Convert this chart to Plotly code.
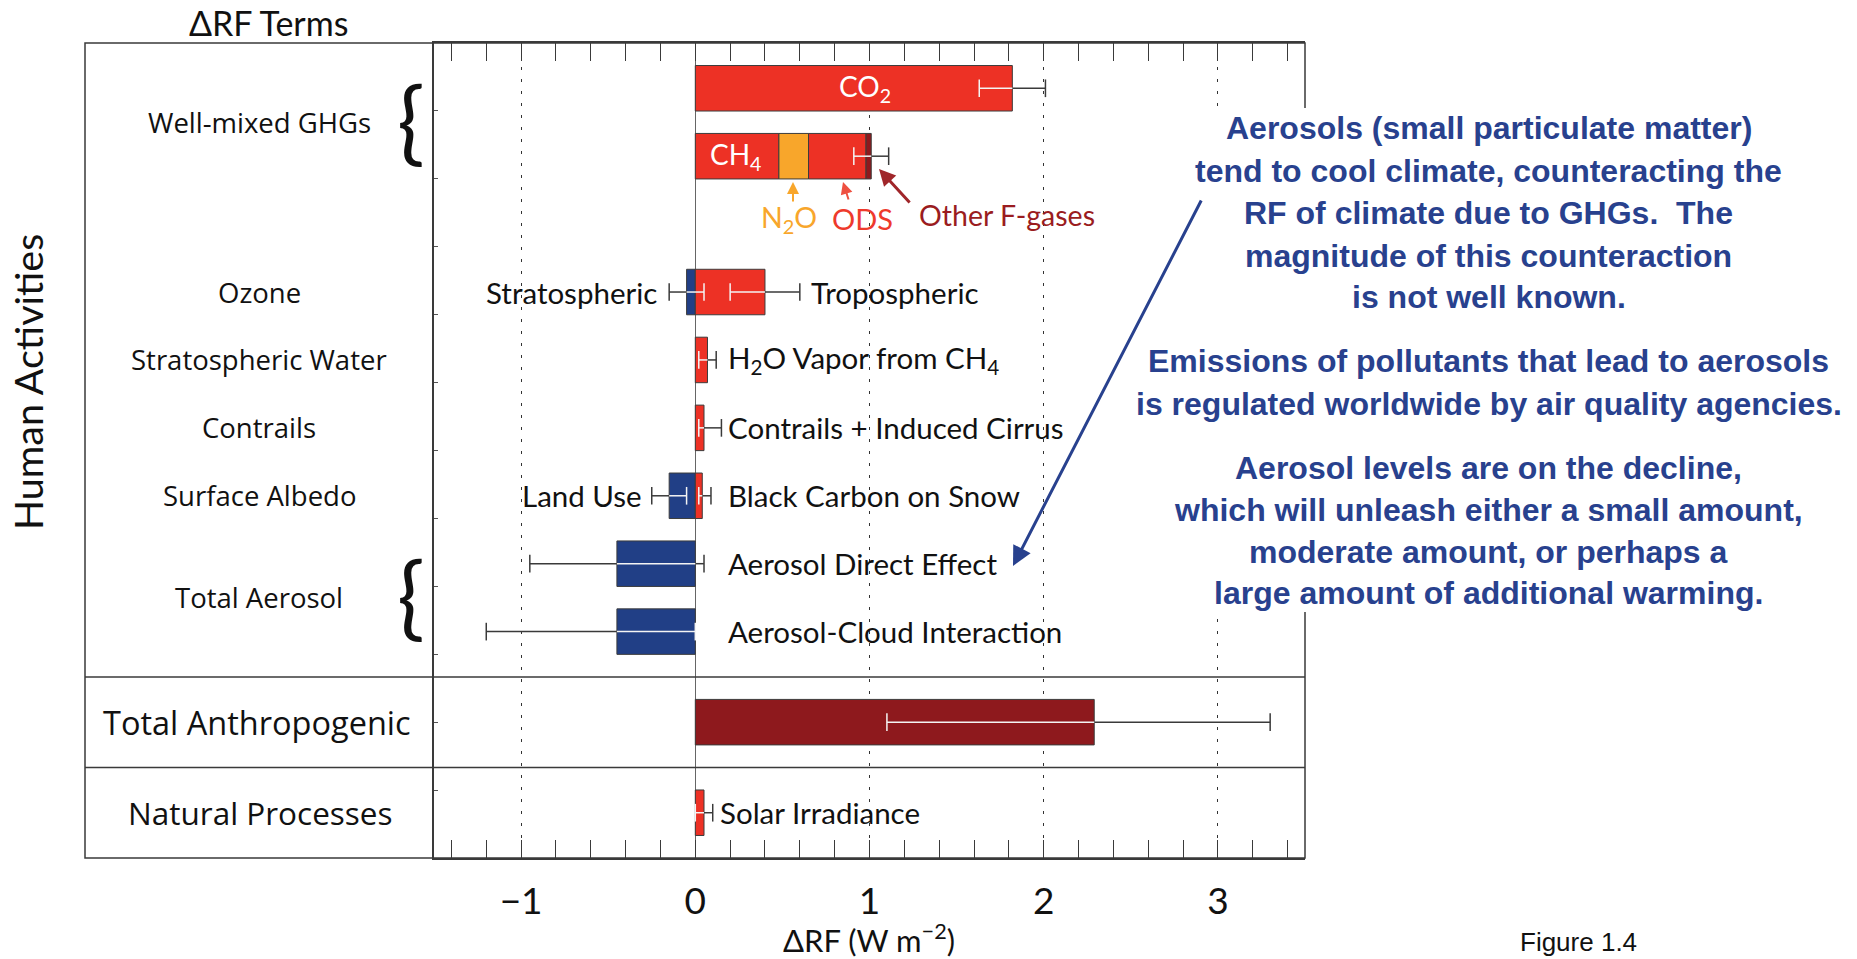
import plotly.graph_objects as go

# ---------------------------------------------------------------
# Radiative forcing terms (W m-2), 1750-2011
# ---------------------------------------------------------------
bar_terms = ["CO2", "CH4", "N2O", "ODS", "Other F-gases",
             "Stratospheric ozone", "Tropospheric ozone",
             "Stratospheric water", "Contrails",
             "Land use", "Black carbon on snow",
             "Aerosol direct", "Aerosol-cloud",
             "Total anthropogenic", "Solar irradiance"]
bar_rf = [1.82, 0.48, 0.17, 0.33, 0.03,
          -0.05, 0.40,
          0.07, 0.05,
          -0.15, 0.04,
          -0.45, -0.45,
          2.29, 0.05]
bar_row = ["co2", "wmghg", "wmghg", "wmghg", "wmghg",
           "ozone", "ozone",
           "h2o", "contrails",
           "albedo", "albedo",
           "ade", "aci",
           "total", "solar"]

# Uncertainty ranges (5-95 %)
err_row = ["co2", "wmghg", "ozone", "ozone", "h2o", "contrails",
           "albedo", "albedo", "ade", "aci", "total", "solar"]
err_lo = [1.63, 0.91, -0.15, 0.20, 0.02, 0.02, -0.25, 0.02, -0.95, -1.20, 1.10, 0.00]
err_hi = [2.01, 1.11, 0.05, 0.60, 0.12, 0.15, -0.05, 0.09, 0.05, 0.00, 3.30, 0.10]

x_ticks = [-1, 0, 1, 2, 3]
x_tick_text = ["\u22121", "0", "1", "2", "3"]

# ---------------------------------------------------------------
# Layout helpers
# ---------------------------------------------------------------
W, H = 1857, 959
ML, MR, MT, MB = 85, 552, 43, 101
PW, PH = W - ML - MR, H - MT - MB
DIV = 434  # divider between label column and plot


def px(x):
    return (x - ML) / PW


def py(y):
    return 1 - (y - MT) / PH


# vertical slot of each row on the y axis
row_slot = {"co2": 0, "wmghg": 1, "ozone": 3, "h2o": 4, "contrails": 5,
            "albedo": 6, "ade": 7, "aci": 8, "total": 9 + 1 / 3, "solar": 10 + 2 / 3}

RED = "#ED3125"
ORANGE = "#F8A62B"
DARKRED = "#8E191D"
BLUE = "#213F86"
NAVY_TXT = "#28418E"
term_color = {"CO2": RED, "CH4": RED, "N2O": ORANGE, "ODS": RED,
              "Other F-gases": DARKRED, "Stratospheric ozone": BLUE,
              "Tropospheric ozone": RED, "Stratospheric water": RED,
              "Contrails": RED, "Land use": BLUE, "Black carbon on snow": RED,
              "Aerosol direct": BLUE, "Aerosol-cloud": BLUE,
              "Total anthropogenic": DARKRED, "Solar irradiance": RED}

fig = go.Figure()

# stacked bars: terms sharing a row are stacked outward from zero by sign
pos_end, neg_end = {}, {}
for term, val, row in zip(bar_terms, bar_rf, bar_row):
    if val >= 0:
        base = pos_end.get(row, 0.0)
        pos_end[row] = base + val
    else:
        base = neg_end.get(row, 0.0)
        neg_end[row] = base + val
    fig.add_trace(go.Bar(
        x=[val], y=[row_slot[row]], base=[base], orientation="h",
        width=0.67, marker=dict(color=term_color[term],
                                line=dict(color="#3c3c3c", width=1)),
        name=term, showlegend=False, hoverinfo="skip"))

# error bars: light where they cross a bar, dark elsewhere
CAP = 0.13
dark_x, dark_y, light_x, light_y = [], [], [], []
for row, lo, hi in zip(err_row, err_lo, err_hi):
    y = row_slot[row]
    rmin, rmax = neg_end.get(row, 0.0), pos_end.get(row, 0.0)
    a, b = max(lo, rmin), min(hi, rmax)
    if a < b:
        light_x += [a, b, None]
        light_y += [y, y, None]
    if lo < rmin:
        dark_x += [lo, min(hi, rmin), None]
        dark_y += [y, y, None]
    if hi > rmax:
        dark_x += [max(lo, rmax), hi, None]
        dark_y += [y, y, None]
    for v in (lo, hi):
        tx, ty = (light_x, light_y) if rmin <= v <= rmax else (dark_x, dark_y)
        tx += [v, v, None]
        ty += [y - CAP, y + CAP, None]

fig.add_trace(go.Scatter(x=dark_x, y=dark_y, mode="lines",
                         line=dict(color="#3a3a3a", width=1.5),
                         showlegend=False, hoverinfo="skip"))
fig.add_trace(go.Scatter(x=light_x, y=light_y, mode="lines",
                         line=dict(color="#f4f4f4", width=1.5),
                         showlegend=False, hoverinfo="skip"))

# ---------------------------------------------------------------
# Frame and section separators
# ---------------------------------------------------------------
frame = dict(color="#3a3a3a", width=1.5)
shapes = [
    dict(type="rect", xref="paper", yref="paper", x0=0, x1=1, y0=0, y1=1, line=frame),
    dict(type="line", xref="paper", yref="y", x0=0, x1=1, y0=8 + 2 / 3, y1=8 + 2 / 3, line=frame),
    dict(type="line", xref="paper", yref="y", x0=0, x1=1, y0=10, y1=10, line=frame),
    # opaque backing of the commentary text box
    dict(type="rect", xref="paper", yref="paper", layer="above",
         x0=px(1131), x1=px(1848), y0=py(612), y1=py(108),
         fillcolor="white", line=dict(width=0)),
]

annotations = []


def note(text, x, y, size, family="Lato", color="#111", xanchor="center",
         xref="paper", yref="paper", **kw):
    annotations.append(dict(text=text, x=x, y=y, xref=xref, yref=yref,
                            xanchor=xanchor, yanchor="middle", showarrow=False,
                            font=dict(family=family, size=size, color=color), **kw))


# Row labels in the left column
LBL = "Open Sans"
for txt, row in [("Well-mixed GHGs", 0.5), ("Ozone", 3), ("Stratospheric Water", 4),
                 ("Contrails", 5), ("Surface Albedo", 6), ("Total Aerosol", 7.5)]:
    note(txt, px(259), row, 27.5, family=LBL, yref="y")
note("Total Anthropogenic", px(257), row_slot["total"], 32.5, family=LBL, yref="y")
note("Natural Processes", px(260), row_slot["solar"], 31.5, family=LBL, yref="y")

# grouping braces
for row in (0.5, 7.5):
    note("{", px(411), row, 92, family="Lato", yref="y", color="#111", yshift=4)

note("Human Activities", px(27), py(382), 39.5, textangle=-90)
note("\u0394RF Terms", px(268), py(23), 34)
note("\u0394RF (W m<sup>\u22122</sup>)", px(869), py(938), 31)
note("Figure 1.4", px(1578), py(942), 26, family="Liberation Sans")

# Term labels inside the plot
IN = 29.5
note("CO<sub>2</sub>", px(865), py(88), 28, color="white")
note("CH<sub>4</sub>", px(735), py(156), 28, color="white")
note("Stratospheric", px(659), row_slot["ozone"], IN, xanchor="right", yref="y")
note("Tropospheric", px(809), row_slot["ozone"], IN, xanchor="left", yref="y")
note("H<sub>2</sub>O Vapor from CH<sub>4</sub>", px(726), row_slot["h2o"], IN, xanchor="left", yref="y")
note("Contrails + Induced Cirrus", px(726), row_slot["contrails"], IN, xanchor="left", yref="y")
note("Land Use", px(644), row_slot["albedo"], IN, xanchor="right", yref="y")
note("Black Carbon on Snow", px(726), row_slot["albedo"], IN, xanchor="left", yref="y")
note("Aerosol Direct Effect", px(726), row_slot["ade"], IN, xanchor="left", yref="y")
note("Aerosol-Cloud Interaction", px(726), row_slot["aci"], IN, xanchor="left", yref="y")
note("Solar Irradiance", px(718), row_slot["solar"], IN, xanchor="left", yref="y")

# halocarbon / N2O call-outs
note("N<sub>2</sub>O", px(789), py(219), 28.5, color=ORANGE)
note("ODS", px(862), py(219), 29, color="#EE3A2C")
note("Other F-gases", px(917), py(215), 28.5, color="#9A1C20", xanchor="left")


def arrow(tip, tail, color, width, head=2, size=1.0):
    annotations.append(dict(text="", x=px(tip[0]), y=py(tip[1]), xref="paper", yref="paper",
                            ax=tail[0] - tip[0], ay=tail[1] - tip[1], axref="pixel", ayref="pixel",
                            showarrow=True, arrowhead=head, arrowsize=size,
                            arrowwidth=width, arrowcolor=color, standoff=0, startstandoff=0))


arrow((793, 182), (793, 203), ORANGE, 2, size=1.2)
arrow((843, 182), (849, 201), "#EE5040", 2, size=1.2)
arrow((879, 169), (911, 204), "#A0262A", 3, size=1.1)
arrow((1013, 566), (1202, 199), NAVY_TXT, 3, size=1.3)

# Commentary text block
comment_lines = [
    ("Aerosols (small particulate matter)", 128),
    ("tend to cool climate, counteracting the", 170.5),
    ("RF of climate due to GHGs.  The", 213),
    ("magnitude of this counteraction", 255.5),
    ("is not well known.", 297),
    ("Emissions of pollutants that lead to aerosols", 361),
    ("is regulated worldwide by air quality agencies.", 403.5),
    ("Aerosol levels are on the decline,", 468),
    ("which will unleash either a small amount,", 510),
    ("moderate amount, or perhaps a", 552),
    ("large amount of additional warming.", 593),
]
for txt, ypix in comment_lines:
    annotations.append(dict(text="<b>" + txt.replace("  ", "&nbsp; ") + "</b>",
                            x=px(1489), y=py(ypix), xref="paper", yref="paper",
                            xanchor="center", yanchor="middle", showarrow=False,
                            font=dict(family="Liberation Sans", size=32, color=NAVY_TXT)))

fig.update_layout(
    width=W, height=H,
    margin=dict(l=ML, r=MR, t=MT, b=MB),
    paper_bgcolor="white", plot_bgcolor="white",
    barmode="overlay",
    shapes=shapes, annotations=annotations,
    xaxis=dict(domain=[(DIV - ML) / PW, 1], range=[-1.5, 3.5],
               tickvals=x_ticks, ticktext=x_tick_text,
               ticks="inside", ticklen=18, tickcolor="#3a3a3a", tickwidth=1,
               minor=dict(dtick=0.2, tick0=0, ticks="inside", ticklen=18,
                          tickcolor="#3a3a3a", tickwidth=1, showgrid=False),
               mirror="ticks", showline=True, linecolor="#3a3a3a", linewidth=1.5,
               showgrid=True, gridcolor="#333333", gridwidth=1, griddash="3px,9px",
               zeroline=True, zerolinecolor="#666666", zerolinewidth=1,
               tickfont=dict(family="Lato", size=37, color="#111"),
               ticklabelstandoff=10, fixedrange=True),
    yaxis=dict(range=[11 + 1 / 3, -2 / 3], showgrid=False, zeroline=False,
               tickvals=[k + 1 / 3 for k in range(11)], ticks="inside", ticklen=4,
               tickcolor="#555", showticklabels=False,
               showline=True, linecolor="#3a3a3a", linewidth=1.5, fixedrange=True),
)

fig.write_html("out.html")
